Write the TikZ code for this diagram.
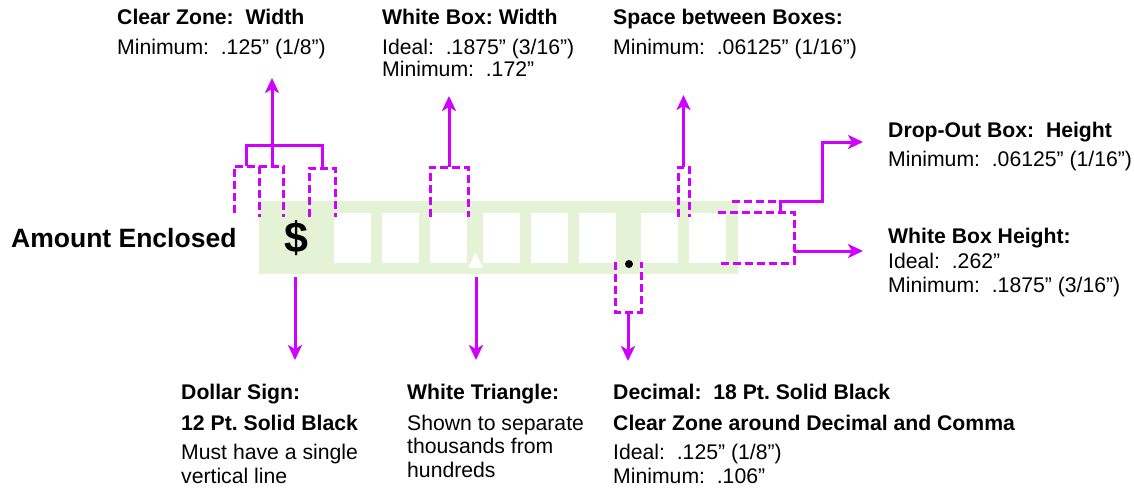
\documentclass[tikz,border=0pt]{standalone}
\usepackage{fontspec}
\setmainfont{Liberation Sans}
\usetikzlibrary{arrows.meta}
\definecolor{mag}{RGB}{208,0,255}
\definecolor{band}{RGB}{228,242,213}
\begin{document}
\begin{tikzpicture}[x=1pt,y=-1pt,
  solidl/.style={draw=mag, line width=3pt},
  dashl/.style={draw=mag, line width=3pt, dash pattern=on 8pt off 4pt},
  arr/.style={-{Stealth[length=15pt,width=14pt,inset=4pt]}},
  ttl/.style={anchor=base west, inner sep=0pt, font=\fontsize{21.2}{24}\selectfont\bfseries\frenchspacing},
  txt/.style={anchor=base west, inner sep=0pt, font=\fontsize{21.2}{24}\selectfont\frenchspacing}]
\useasboundingbox (0,0) rectangle (1134,491);
% band
\fill[band] (259,201) rectangle (738,274);
\foreach \x in {334,382,430,483,531,579,641,689} {\fill[white] (\x,213) rectangle ++(37,50);}
\fill[white] (468,268) -- (475.5,252) -- (483,268) -- cycle;
\fill[black] (629,264) circle (4);
\node[anchor=base, inner sep=0pt, font=\fontsize{43}{45}\selectfont\bfseries] (dollar) at (296,252) {\$};
\node[anchor=base west, inner sep=0pt, font=\fontsize{26.5}{28}\selectfont\bfseries] (amount) at (11,247) {Amount Enclosed};
% coordinates
\coordinate (czs) at (272,166);
\coordinate (czt) at (272,78);
\coordinate (wbs) at (449,167);
\coordinate (wbt) at (449,96);
\coordinate (sbs) at (683.5,167);
\coordinate (sbt) at (683.5,95);
\coordinate (dss) at (295,277);
\coordinate (dst) at (295,360);
\coordinate (wts) at (476,277);
\coordinate (wtt) at (476,360);
\coordinate (des) at (628,312);
\coordinate (det) at (628,361);
\coordinate (dos) at (780,212);
\coordinate (dot) at (863,142);
\coordinate (whs) at (794,251);
\coordinate (wht) at (863,251);
% clear zone dashed
\draw[dashl] (234,213) -- (234,166) -- (259,166) -- (259,217);
\draw[dashl] (259,166) -- (283,166) -- (283,217);
\draw[dashl] (309,217) -- (309,168) -- (335,168) -- (335,217);
\draw[solidl] (246,166) -- (246,145) -- (322,145) -- (322,168);
\draw[solidl,arr] (czs) -- (czt);
% white box width
\draw[dashl] (430,217) -- (430,167) -- (468,167) -- (468,217);
\draw[solidl,arr] (wbs) -- (wbt);
% space between boxes
\draw[dashl] (678,217) -- (678,167) -- (689,167) -- (689,217);
\draw[solidl,arr] (sbs) -- (sbt);
% dollar, triangle
\draw[solidl,arr] (dss) -- (dst);
\draw[solidl,arr] (wts) -- (wtt);
% decimal
\draw[dashl] (615,262) -- (615,312) -- (641,312) -- (641,262);
\draw[solidl,arr] (des) -- (det);
% drop-out / white box height
\draw[dashl] (732,201) -- (779,201);
\draw[dashl] (718,212) -- (794,212) -- (794,263) -- (718,263);
\draw[solidl,arr] (dos) -- (780,201) -- (822,201) -- (822,142) -- (dot);
\draw[solidl,arr] (whs) -- (wht);
% texts top
\node[ttl] (t1) at (117,24) {Clear Zone:~ Width};
\node[txt] (t1a) at (117,54) {Minimum:~ .125” (1/8”)};
\node[ttl] (t2) at (382,24) {White Box: Width};
\node[txt] (t2a) at (382,54) {Ideal:~ .1875” (3/16”)};
\node[txt] (t2b) at (382,76) {Minimum:~ .172”};
\node[ttl] (t3) at (613,24) {Space between Boxes:};
\node[txt] (t3a) at (613,54) {Minimum:~ .06125” (1/16”)};
% right
\node[ttl] (r1) at (888,137) {Drop-Out Box:~ Height};
\node[txt] (r1a) at (888,166) {Minimum:~ .06125” (1/16”)};
\node[ttl] (r2) at (888,243) {White Box Height:};
\node[txt] (r2a) at (888,268) {Ideal:~ .262”};
\node[txt] (r2b) at (888,292) {Minimum:~ .1875” (3/16”)};
% bottom
\node[ttl] (b1) at (181,399) {Dollar Sign:};
\node[ttl] (b1a) at (181,430) {12 Pt. Solid Black};
\node[txt] (b1b) at (181,459) {Must have a single};
\node[txt] (b1c) at (181,483) {vertical line};
\node[ttl] (b2) at (407,399) {White Triangle:};
\node[txt] (b2a) at (407,430) {Shown to separate};
\node[txt] (b2b) at (407,453) {thousands from};
\node[txt] (b2c) at (407,477) {hundreds};
\node[ttl] (b3) at (613,399) {Decimal:~ 18 Pt. Solid Black};
\node[ttl] (b3a) at (613,430) {Clear Zone around Decimal and Comma};
\node[txt] (b3b) at (613,459) {Ideal:~ .125” (1/8”)};
\node[txt] (b3c) at (613,483) {Minimum:~ .106”};
\end{tikzpicture}
\end{document}
